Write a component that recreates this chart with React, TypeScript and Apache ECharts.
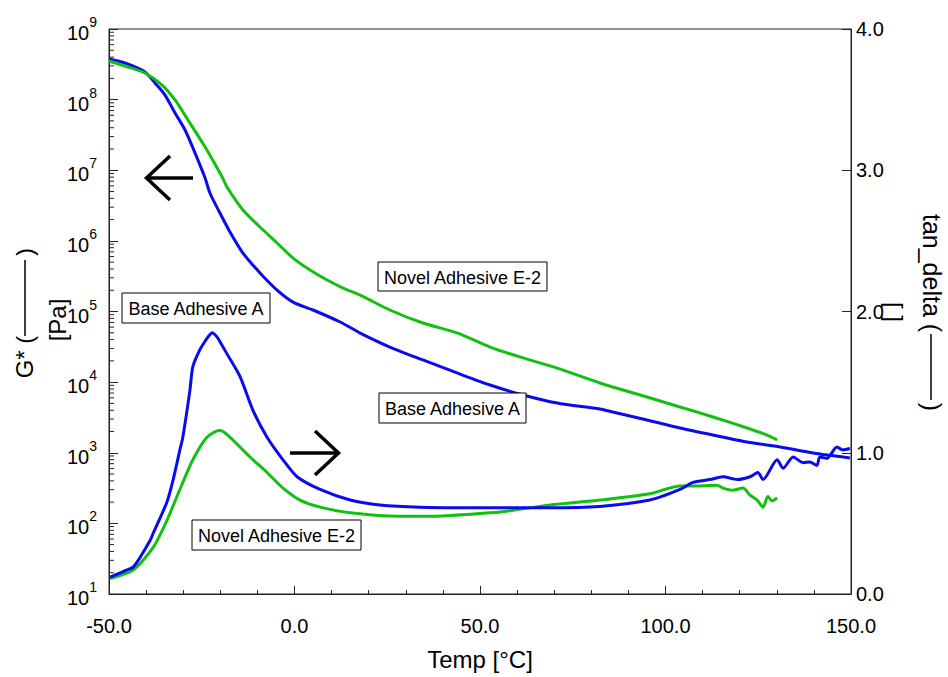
import React, { useEffect, useRef } from 'react';
import * as echarts from 'echarts';

// ---- Data ----
const baseGTemp = [-50, -45.7, -40.3, -37.6, -34.9, -32.2, -29.5, -26.8, -24.1, -22.8, -20.1, -17.4, -13.9, -9.3, -4.7, -0.4, 5.0, 12.3, 17.7, 25.7, 34.6, 43.8, 52.7, 61.6, 70.8, 82.3, 85.8, 95.0, 103.9, 112.8, 122.0, 130.9, 139.8, 149.7];
const baseG = [3.76e8, 3.30e8, 2.46e8, 1.72e8, 1.16e8, 6.47e7, 3.72e7, 1.75e7, 7.76e6, 4.76e6, 2.48e6, 1.34e6, 6.73e5, 3.51e5, 2.01e5, 1.36e5, 1.05e5, 7.10e4, 4.95e4, 3.14e4, 2.06e4, 1.35e4, 9.10e3, 6.58e3, 5.06e3, 4.16e3, 3.78e3, 2.91e3, 2.24e3, 1.78e3, 1.42e3, 1.21e3, 991, 843];

const novelGTemp = [-50, -44.9, -40.3, -35.7, -32.2, -28.7, -24.1, -19.5, -18.2, -13.9, -9.3, -4.7, -0.4, 4.2, 8.8, 13.1, 17.7, 25.7, 34.6, 43.8, 52.7, 61.6, 70.8, 82.3, 85.8, 95.0, 103.9, 112.8, 122.0, 127.4, 130.1];
const novelG = [3.52e8, 2.90e8, 2.38e8, 1.61e8, 9.89e7, 5.14e7, 2.13e7, 8.02e6, 5.79e6, 2.74e6, 1.57e6, 9.33e5, 5.71e5, 3.87e5, 2.79e5, 2.15e5, 1.71e5, 1.05e5, 6.87e4, 4.97e4, 3.14e4, 2.20e4, 1.58e4, 9.73e3, 8.53e3, 6.15e3, 4.45e3, 3.21e3, 2.24e3, 1.78e3, 1.52e3];

const baseTanTemp = [-49.7, -45.1, -43.5, -41.6, -38.9, -38.1, -34.4, -32.7, -30.9, -30.1, -28.2, -27.4, -25.5, -24.1, -23.0, -22.2, -20.9, -19.5, -18.2, -14.7, -11.2, -7.4, -3.1, 0.7, 6.9, 15.0, 23.0, 33.8, 55.4, 68.9, 82.3, 95.8, 103.9, 107.4, 112.0, 115.5, 119.3, 122.8, 124.9, 126.3, 130.1, 131.7, 134.4, 137.1, 138.9, 140.8, 141.6, 143.5, 146.2, 147.8, 149.7];
const baseTan = [0.12, 0.17, 0.19, 0.26, 0.38, 0.43, 0.65, 0.81, 1.02, 1.11, 1.44, 1.61, 1.73, 1.79, 1.83, 1.85, 1.82, 1.76, 1.70, 1.54, 1.30, 1.11, 0.95, 0.83, 0.74, 0.665, 0.63, 0.615, 0.61, 0.61, 0.62, 0.665, 0.74, 0.79, 0.81, 0.83, 0.81, 0.83, 0.86, 0.81, 0.95, 0.89, 0.97, 0.93, 0.935, 0.91, 0.97, 0.96, 1.04, 1.02, 1.03];

const novelTanTemp = [-49.7, -43.5, -38.1, -34.4, -30.9, -27.4, -23.6, -20.1, -16.6, -12.0, -7.4, -3.1, 1.5, 6.9, 15.0, 28.4, 36.5, 47.3, 55.4, 68.9, 82.3, 95.8, 103.9, 109.3, 113.9, 115.5, 118.2, 120.9, 122.8, 124.7, 126.3, 127.6, 128.7, 130.1];
const novelTan = [0.11, 0.17, 0.33, 0.52, 0.74, 0.95, 1.11, 1.16, 1.09, 0.97, 0.86, 0.75, 0.665, 0.615, 0.575, 0.55, 0.55, 0.565, 0.58, 0.63, 0.665, 0.71, 0.765, 0.765, 0.77, 0.75, 0.735, 0.75, 0.70, 0.665, 0.615, 0.69, 0.66, 0.68];

const xMin = -50;
const xMax = 150;
const gDecades = [1, 2, 3, 4, 5, 6, 7, 8];
const gMinorMultipliers = [2, 3, 4, 5, 6, 7, 8, 9];
const annotations = [
  { text: 'Base Adhesive A', x: 122, y: 293, w: 148, h: 30 },
  { text: 'Novel Adhesive E-2', x: 378, y: 262, w: 169, h: 29 },
  { text: 'Base Adhesive A', x: 379, y: 393, w: 147, h: 30 },
  { text: 'Novel Adhesive E-2', x: 192, y: 520, w: 169, h: 30 },
];

const FONT = "'Liberation Sans', Arial, Helvetica, sans-serif";
const BLUE = '#0a0aee';
const GREEN = '#11c011';

const pairs = (xs: number[], ys: number[]) => xs.map((x, i) => [x, ys[i]]);

export default function App() {
  const ref = useRef<HTMLDivElement>(null);

  useEffect(() => {
    if (!ref.current) return;
    const chart = echarts.init(ref.current, undefined, { renderer: 'svg' });

    const minorTickValues = gDecades.flatMap((d) => gMinorMultipliers.map((m) => m * Math.pow(10, d)));

    const lineSeries = (name: string, data: number[][], color: string, yAxisIndex: number) => ({
      type: 'line',
      name,
      data,
      yAxisIndex,
      showSymbol: false,
      symbol: 'none',
      smooth: 0.25,
      lineStyle: { color, width: 3 },
      z: 3,
    });

    const graphic: any[] = [];
    // left axis title
    graphic.push({ type: 'text', x: 24, y: 357, rotation: Math.PI / 2, style: { text: 'G* (', font: `24px ${FONT}`, fill: '#000', align: 'center', verticalAlign: 'middle' } });
    graphic.push({ type: 'line', shape: { x1: 25, y1: 336, x2: 25, y2: 260 }, style: { stroke: '#000', lineWidth: 1.5 } });
    graphic.push({ type: 'text', x: 24, y: 252, rotation: Math.PI / 2, style: { text: ')', font: `24px ${FONT}`, fill: '#000', align: 'center', verticalAlign: 'middle' } });
    graphic.push({ type: 'text', x: 57, y: 320, rotation: Math.PI / 2, style: { text: '[Pa]', font: `24px ${FONT}`, fill: '#000', align: 'center', verticalAlign: 'middle' } });
    // right axis title
    graphic.push({ type: 'text', x: 932, y: 273, rotation: -Math.PI / 2, style: { text: 'tan_delta (', font: `25px ${FONT}`, fill: '#000', align: 'center', verticalAlign: 'middle' } });
    graphic.push({ type: 'line', shape: { x1: 931, y1: 334, x2: 931, y2: 400 }, style: { stroke: '#000', lineWidth: 1.5 } });
    graphic.push({ type: 'text', x: 932, y: 407, rotation: -Math.PI / 2, style: { text: ')', font: `25px ${FONT}`, fill: '#000', align: 'center', verticalAlign: 'middle' } });
    graphic.push({ type: 'text', x: 894, y: 312, rotation: -Math.PI / 2, style: { text: '[ ]', font: `24px ${FONT}`, fill: '#000', align: 'center', verticalAlign: 'middle' } });
    // annotation boxes
    annotations.forEach((a) => {
      graphic.push({ type: 'rect', shape: { x: a.x, y: a.y, width: a.w, height: a.h }, style: { fill: '#fff', stroke: '#000', lineWidth: 1 }, z: 10 });
      graphic.push({ type: 'text', x: a.x + a.w / 2, y: a.y + a.h / 2 + 1, style: { text: a.text, font: `18px ${FONT}`, fill: '#000', align: 'center', verticalAlign: 'middle' }, z: 11 });
    });
    // arrows
    graphic.push({ type: 'polyline', shape: { points: [[170, 156], [146.5, 178], [170, 200]] }, style: { stroke: '#000', lineWidth: 3.5, fill: 'none' }, z: 10 });
    graphic.push({ type: 'line', shape: { x1: 147, y1: 178, x2: 193, y2: 178 }, style: { stroke: '#000', lineWidth: 3.5 }, z: 10 });
    graphic.push({ type: 'polyline', shape: { points: [[315, 431], [338.5, 453], [315, 475]] }, style: { stroke: '#000', lineWidth: 3.5, fill: 'none' }, z: 10 });
    graphic.push({ type: 'line', shape: { x1: 290, y1: 453, x2: 338, y2: 453 }, style: { stroke: '#000', lineWidth: 3.5 }, z: 10 });

    const axisColor = '#222';

    chart.setOption({
      animation: false,
      backgroundColor: '#fff',
      grid: { left: 109, right: 97, top: 29, bottom: 83, show: true, borderColor: axisColor, borderWidth: 1, backgroundColor: 'transparent' },
      xAxis: {
        type: 'value',
        min: xMin,
        max: xMax,
        interval: 50,
        name: 'Temp [°C]',
        nameLocation: 'middle',
        nameGap: 53,
        nameTextStyle: { fontFamily: FONT, fontSize: 24, color: '#000' },
        axisLine: { show: true, onZero: false, lineStyle: { color: axisColor, width: 1 } },
        axisTick: { show: true, inside: true, length: 8, lineStyle: { color: axisColor } },
        minorTick: { show: true, splitNumber: 5, length: 4, lineStyle: { color: axisColor } },
        splitLine: { show: false },
        axisLabel: { fontFamily: FONT, fontSize: 20, color: '#000', margin: 22, formatter: (v: number) => v.toFixed(1) },
      },
      yAxis: [
        {
          type: 'log',
          logBase: 10,
          min: 10,
          max: 1e9,
          position: 'left',
          axisLine: { show: true, onZero: false, lineStyle: { color: axisColor, width: 1 } },
          axisTick: { show: true, inside: true, length: 9, lineStyle: { color: axisColor } },
          splitLine: { show: false },
          axisLabel: {
            margin: 12,
            formatter: (v: number) => `{b|10}{s|${Math.round(Math.log10(v))}}`,
            rich: {
              b: { fontFamily: FONT, fontSize: 20, color: '#000', lineHeight: 28, verticalAlign: 'bottom' },
              s: { fontFamily: FONT, fontSize: 14, color: '#000', lineHeight: 14, verticalAlign: 'top' },
            },
          },
        },
        {
          type: 'value',
          min: 0,
          max: 4,
          interval: 1,
          position: 'right',
          axisLine: { show: true, onZero: false, lineStyle: { color: axisColor, width: 1 } },
          axisTick: { show: true, inside: true, length: 9, lineStyle: { color: axisColor } },
          splitLine: { show: false },
          axisLabel: { fontFamily: FONT, fontSize: 20, color: '#000', margin: 5, formatter: (v: number) => v.toFixed(1) },
        },
      ],
      series: [
        {
          type: 'custom',
          name: 'minorTicks',
          silent: true,
          xAxisIndex: 0,
          yAxisIndex: 0,
          data: minorTickValues.map((v) => [xMin, v]),
          encode: { x: 0, y: 1 },
          renderItem: (params: any, api: any) => {
            const p = api.coord([api.value(0), api.value(1)]);
            return {
              type: 'line',
              shape: { x1: p[0], y1: p[1], x2: p[0] + 5, y2: p[1] },
              style: { stroke: axisColor, lineWidth: 1 },
            };
          },
          z: 1,
        },
        lineSeries('Base Adhesive A G*', pairs(baseGTemp, baseG), BLUE, 0),
        lineSeries('Novel Adhesive E-2 G*', pairs(novelGTemp, novelG), GREEN, 0),
        lineSeries('Novel Adhesive E-2 tan_delta', pairs(novelTanTemp, novelTan), GREEN, 1),
        lineSeries('Base Adhesive A tan_delta', pairs(baseTanTemp, baseTan), BLUE, 1),
      ],
      graphic,
    });

    return () => chart.dispose();
  }, []);

  return <div ref={ref} style={{ position: 'absolute', left: 0, top: 0, width: 948, height: 677 }} />;
}
